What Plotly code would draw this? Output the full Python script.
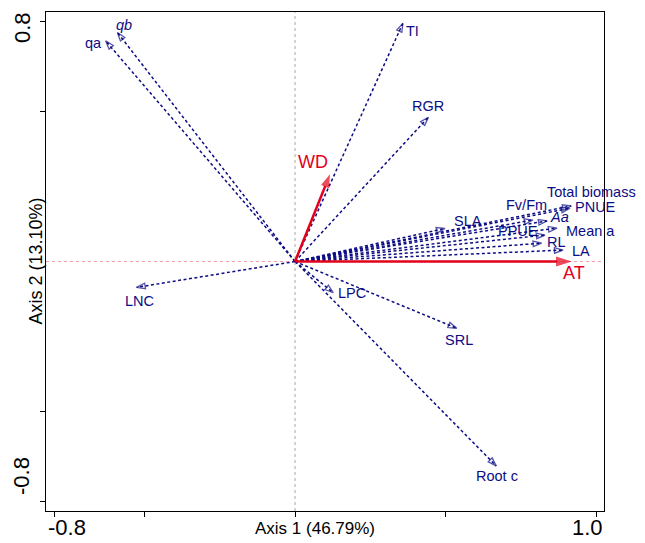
import plotly.graph_objects as go

# ---------------- data ----------------
VARIABLES = ["qa", "qb", "TI", "RGR", "LNC", "LPC", "SRL", "Root c", "SLA",
             "Fv/Fm", "Aa", "PPUE", "Mean a", "RL", "LA", "PNUE", "Total biomass"]
VAR_LABELS = ["qa", "<i>qb</i>", "TI", "RGR", "LNC", "LPC", "SRL", "Root c", "SLA",
              "Fv/Fm", "<i>Aa</i>", "PPUE", "Mean a", "RL", "LA", "PNUE", "Total biomass"]
AXIS1 = [-0.629, -0.590, 0.358, 0.443, -0.526, 0.127, 0.537, 0.668, 0.498,
         0.790, 0.837, 0.830, 0.870, 0.819, 0.890, 0.913, 0.917]
AXIS2 = [0.734, 0.762, 0.792, 0.480, -0.086, -0.104, -0.222, -0.680, 0.110,
         0.138, 0.135, 0.088, 0.111, 0.061, 0.038, 0.177, 0.185]

ENV_NAMES = ["WD", "AT"]
ENV_AXIS1 = [0.116, 0.919]
ENV_AXIS2 = [0.290, 0.0]

X_TICKS = [-0.8, -0.5, 0.0, 0.5, 1.0]
Y_TICKS = [-0.8, -0.5, 0.5, 0.8]
X_TICK_LABELS = ["-0.8", "1.0"]
Y_TICK_LABELS = ["0.8", "-0.8"]
X_TITLE = "Axis 1 (46.79%)"
Y_TITLE = "Axis 2 (13.10%)"

# ---------------- styling ----------------
NAVY = "#0c0c84"
RED = "#e3001b"
FONT = "Liberation Sans, Arial, sans-serif"

# label offsets in pixels (dx right, dy down) from each arrow tip
LABEL_OFFSETS = {
    "qa": (-12, 2), "qb": (7, -7), "TI": (10, 8), "RGR": (0, -11),
    "LNC": (3, 13.5), "LPC": (19, 0), "SRL": (2, 12), "Root c": (1, 10),
    "SLA": (23, -7), "Fv/Fm": (-6, -15), "Aa": (12, -4), "PPUE": (-27, -4),
    "Mean a": (33, 3), "RL": (15, -1), "LA": (18, 1), "PNUE": (26, -1),
    "Total biomass": (20, -13.5),
}
ENV_OFFSETS = {"WD": (-17, -12), "AT": (2, 11.5)}

fig = go.Figure()

for name, x, y in zip(VARIABLES, AXIS1, AXIS2):
    fig.add_trace(go.Scatter(
        x=[0, x], y=[0, y], mode="lines+markers",
        line=dict(color=NAVY, width=1.5, dash="3px,2.5px"),
        marker=dict(symbol="arrow-open", size=[0, 9], angleref="previous",
                    color=NAVY, line=dict(color=NAVY, width=1.3)),
        hoverinfo="skip", showlegend=False, name=name))

for name, x, y, size in zip(ENV_NAMES, ENV_AXIS1, ENV_AXIS2, [14, 16.5]):
    fig.add_trace(go.Scatter(
        x=[0, x], y=[0, y], mode="lines+markers",
        line=dict(color=RED, width=2.5),
        marker=dict(symbol="arrow", size=[0, size], angleref="previous",
                    color=RED, line=dict(width=0)),
        hoverinfo="skip", showlegend=False, name=name))

annotations = []
for name, lab, x, y in zip(VARIABLES, VAR_LABELS, AXIS1, AXIS2):
    dx, dy = LABEL_OFFSETS[name]
    annotations.append(dict(x=x, y=y, xref="x", yref="y", text=lab, showarrow=False,
                            xshift=dx, yshift=-dy, xanchor="center", yanchor="middle",
                            font=dict(family=FONT, size=14.5, color=NAVY)))
for name, x, y in zip(ENV_NAMES, ENV_AXIS1, ENV_AXIS2):
    dx, dy = ENV_OFFSETS[name]
    annotations.append(dict(x=x, y=y, xref="x", yref="y", text=name, showarrow=False,
                            xshift=dx, yshift=-dy, xanchor="center", yanchor="middle",
                            font=dict(family=FONT, size=18, color=RED)))

# tick labels (placed like the original, slightly inside the end ticks)
annotations.append(dict(x=X_TICKS[0], y=0, xref="x", yref="paper", text=X_TICK_LABELS[0],
                        showarrow=False, xshift=13, yshift=-16, xanchor="center", yanchor="middle",
                        font=dict(family=FONT, size=22, color="black")))
annotations.append(dict(x=X_TICKS[-1], y=0, xref="x", yref="paper", text=X_TICK_LABELS[1],
                        showarrow=False, xshift=-9, yshift=-16, xanchor="center", yanchor="middle",
                        font=dict(family=FONT, size=22, color="black")))
annotations.append(dict(x=0, y=Y_TICKS[-1], xref="paper", yref="y", text=Y_TICK_LABELS[0],
                        showarrow=False, xshift=-24, yshift=-7, textangle=-90,
                        xanchor="center", yanchor="middle",
                        font=dict(family=FONT, size=22, color="black")))
annotations.append(dict(x=0, y=Y_TICKS[0], xref="paper", yref="y", text=Y_TICK_LABELS[1],
                        showarrow=False, xshift=-24, yshift=26, textangle=-90,
                        xanchor="center", yanchor="middle",
                        font=dict(family=FONT, size=22, color="black")))
annotations.append(dict(x=0, y=0, xref="x", yref="paper", text=X_TITLE, showarrow=False,
                        xshift=20, yshift=-17, xanchor="center", yanchor="middle",
                        font=dict(family=FONT, size=17, color="black")))
annotations.append(dict(x=0, y=0, xref="paper", yref="y", text=Y_TITLE, showarrow=False,
                        xshift=-11, textangle=-90, xanchor="center", yanchor="middle",
                        font=dict(family=FONT, size=18, color="black")))

# the page places the figure 8px in from the top-left corner; compensate
fig.update_layout(
    width=637, height=535,
    margin=dict(l=38, r=41, t=4, b=32),
    paper_bgcolor="white", plot_bgcolor="white",
    annotations=annotations,
    shapes=[
        dict(type="line", xref="x", yref="paper", x0=0, x1=0, y0=0, y1=1,
             line=dict(color="#a8a8a8", width=1, dash="dot"), layer="below"),
        dict(type="line", xref="paper", yref="y", x0=0, x1=1, y0=0, y1=0,
             line=dict(color="#f2a0a8", width=1, dash="dot"), layer="below"),
    ],
    xaxis=dict(range=[-0.827, 1.026], showline=True, mirror=True, linecolor="black",
               linewidth=1, ticks="outside", ticklen=5, tickcolor="black",
               tickvals=X_TICKS, showticklabels=False, showgrid=False, zeroline=False,
               fixedrange=True),
    yaxis=dict(range=[-0.830, 0.830], showline=True, mirror=True, linecolor="black",
               linewidth=1, ticks="outside", ticklen=5, tickcolor="black",
               tickvals=Y_TICKS, showticklabels=False, showgrid=False, zeroline=False,
               fixedrange=True),
)

fig.write_html("out.html")
